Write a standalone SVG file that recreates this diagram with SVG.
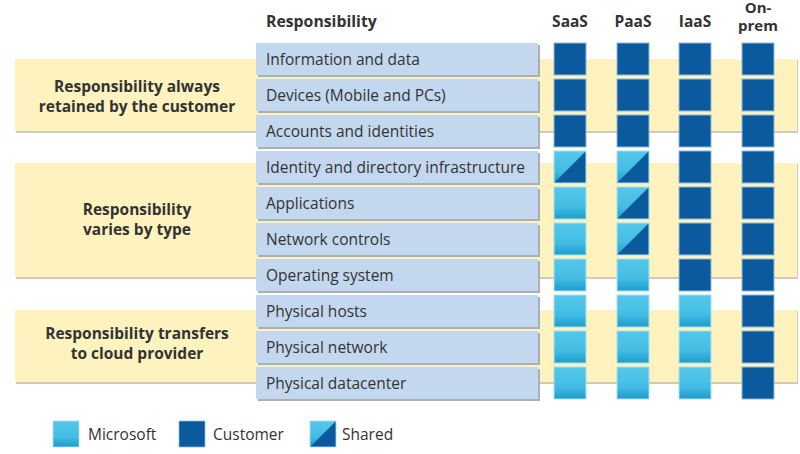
<svg xmlns="http://www.w3.org/2000/svg" width="800" height="454" viewBox="0 0 800 454">
<defs>
<linearGradient id="ms" x1="0" y1="0" x2="0" y2="1">
<stop offset="0" stop-color="#55C8EA"/>
<stop offset="0.6" stop-color="#45BDE4"/>
<stop offset="1" stop-color="#1C9DCB"/>
</linearGradient>
<symbol id="cMs" viewBox="0 0 32 32" overflow="visible"><rect x="0" y="0" width="32" height="32" fill="url(#ms)" stroke="#A8E0F2" stroke-width="1"/></symbol>
<symbol id="cCu" viewBox="0 0 32 32" overflow="visible"><rect x="0" y="0" width="32" height="32" fill="#0B5A9E" stroke="#8FB8DA" stroke-width="1"/></symbol>
<symbol id="cSh" viewBox="0 0 32 32" overflow="visible"><rect x="0" y="0" width="32" height="32" fill="url(#ms)"/><polygon points="32,0 32,32 0,32" fill="#0B5A9E"/><rect x="0" y="0" width="32" height="32" fill="none" stroke="#A8E0F2" stroke-width="1"/></symbol>
</defs>
<style>
.band{fill:#FEF2BF}
.bshadow{fill:#CFCBB8}
.lbl{fill:#C3D8EF}
.lshadow{fill:#A9AFB8}
.t{font-family:"Open Sans","Noto Sans","DejaVu Sans",sans-serif;font-size:15.5px;fill:#333333}
.b{font-family:"Open Sans","Noto Sans","DejaVu Sans",sans-serif;font-size:15.5px;font-weight:bold;fill:#333333}
.h{font-size:15.8px}
.op{font-size:15px}
.bc{text-anchor:middle}
</style>
<rect width="800" height="454" fill="#ffffff"/>

<g id="headers">
<text class="b h" x="266" y="27">Responsibility</text>
<text class="b bc" x="570" y="27">SaaS</text>
<text class="b bc" x="633" y="27">PaaS</text>
<text class="b bc" x="695" y="27">IaaS</text>
<text class="b bc op" x="758" y="13">On-</text>
<text class="b bc op" x="758" y="31">prem</text>
</g>

<g id="band-retained">
<rect class="bshadow" x="16" y="60" width="782" height="73"/>
<rect class="band" x="15" y="59" width="782" height="72"/>
<text class="b bc" x="137" y="92">Responsibility always</text>
<text class="b bc" x="137" y="112">retained by the customer</text>
</g>
<g id="band-varies">
<rect class="bshadow" x="16" y="164" width="782" height="115"/>
<rect class="band" x="15" y="163" width="782" height="114"/>
<text class="b bc" x="137" y="215">Responsibility</text>
<text class="b bc" x="137" y="235">varies by type</text>
</g>
<g id="band-transfers">
<rect class="bshadow" x="16" y="311" width="782" height="73"/>
<rect class="band" x="15" y="310" width="782" height="72"/>
<text class="b bc" x="137" y="339">Responsibility transfers</text>
<text class="b bc" x="137" y="359">to cloud provider</text>
</g>

<g id="rows">
<g id="row-information">
<rect class="lshadow" x="258" y="45" width="282" height="32"/>
<rect class="lbl" x="256" y="43" width="282" height="32"/>
<text class="t" x="266" y="65">Information and data</text>
</g>
<g id="row-devices">
<rect class="lshadow" x="258" y="81" width="282" height="32"/>
<rect class="lbl" x="256" y="79" width="282" height="32"/>
<text class="t" x="266" y="101">Devices (Mobile and PCs)</text>
</g>
<g id="row-accounts">
<rect class="lshadow" x="258" y="117" width="282" height="32"/>
<rect class="lbl" x="256" y="115" width="282" height="32"/>
<text class="t" x="266" y="137">Accounts and identities</text>
</g>
<g id="row-identity">
<rect class="lshadow" x="258" y="153" width="282" height="32"/>
<rect class="lbl" x="256" y="151" width="282" height="32"/>
<text class="t" x="266" y="173">Identity and directory infrastructure</text>
</g>
<g id="row-applications">
<rect class="lshadow" x="258" y="189" width="282" height="32"/>
<rect class="lbl" x="256" y="187" width="282" height="32"/>
<text class="t" x="266" y="209">Applications</text>
</g>
<g id="row-network-controls">
<rect class="lshadow" x="258" y="225" width="282" height="32"/>
<rect class="lbl" x="256" y="223" width="282" height="32"/>
<text class="t" x="266" y="245">Network controls</text>
</g>
<g id="row-os">
<rect class="lshadow" x="258" y="261" width="282" height="32"/>
<rect class="lbl" x="256" y="259" width="282" height="32"/>
<text class="t" x="266" y="281">Operating system</text>
</g>
<g id="row-hosts">
<rect class="lshadow" x="258" y="297" width="282" height="32"/>
<rect class="lbl" x="256" y="295" width="282" height="32"/>
<text class="t" x="266" y="317">Physical hosts</text>
</g>
<g id="row-network">
<rect class="lshadow" x="258" y="333" width="282" height="32"/>
<rect class="lbl" x="256" y="331" width="282" height="32"/>
<text class="t" x="266" y="353">Physical network</text>
</g>
<g id="row-datacenter">
<rect class="lshadow" x="258" y="369" width="282" height="32"/>
<rect class="lbl" x="256" y="367" width="282" height="32"/>
<text class="t" x="266" y="389">Physical datacenter</text>
</g>
</g>

<g id="col-saas">
<use href="#cCu" x="554" y="43" width="32" height="32"/>
<use href="#cCu" x="554" y="79" width="32" height="32"/>
<use href="#cCu" x="554" y="115" width="32" height="32"/>
<use href="#cSh" x="554" y="151" width="32" height="32"/>
<use href="#cMs" x="554" y="187" width="32" height="32"/>
<use href="#cMs" x="554" y="223" width="32" height="32"/>
<use href="#cMs" x="554" y="259" width="32" height="32"/>
<use href="#cMs" x="554" y="295" width="32" height="32"/>
<use href="#cMs" x="554" y="331" width="32" height="32"/>
<use href="#cMs" x="554" y="367" width="32" height="32"/>
</g>
<g id="col-paas">
<use href="#cCu" x="617" y="43" width="32" height="32"/>
<use href="#cCu" x="617" y="79" width="32" height="32"/>
<use href="#cCu" x="617" y="115" width="32" height="32"/>
<use href="#cSh" x="617" y="151" width="32" height="32"/>
<use href="#cSh" x="617" y="187" width="32" height="32"/>
<use href="#cSh" x="617" y="223" width="32" height="32"/>
<use href="#cMs" x="617" y="259" width="32" height="32"/>
<use href="#cMs" x="617" y="295" width="32" height="32"/>
<use href="#cMs" x="617" y="331" width="32" height="32"/>
<use href="#cMs" x="617" y="367" width="32" height="32"/>
</g>
<g id="col-iaas">
<use href="#cCu" x="679" y="43" width="32" height="32"/>
<use href="#cCu" x="679" y="79" width="32" height="32"/>
<use href="#cCu" x="679" y="115" width="32" height="32"/>
<use href="#cCu" x="679" y="151" width="32" height="32"/>
<use href="#cCu" x="679" y="187" width="32" height="32"/>
<use href="#cCu" x="679" y="223" width="32" height="32"/>
<use href="#cCu" x="679" y="259" width="32" height="32"/>
<use href="#cMs" x="679" y="295" width="32" height="32"/>
<use href="#cMs" x="679" y="331" width="32" height="32"/>
<use href="#cMs" x="679" y="367" width="32" height="32"/>
</g>
<g id="col-onprem">
<use href="#cCu" x="742" y="43" width="32" height="32"/>
<use href="#cCu" x="742" y="79" width="32" height="32"/>
<use href="#cCu" x="742" y="115" width="32" height="32"/>
<use href="#cCu" x="742" y="151" width="32" height="32"/>
<use href="#cCu" x="742" y="187" width="32" height="32"/>
<use href="#cCu" x="742" y="223" width="32" height="32"/>
<use href="#cCu" x="742" y="259" width="32" height="32"/>
<use href="#cCu" x="742" y="295" width="32" height="32"/>
<use href="#cCu" x="742" y="331" width="32" height="32"/>
<use href="#cCu" x="742" y="367" width="32" height="32"/>
</g>

<g id="legend">
<use href="#cMs" x="53" y="421" width="26" height="26"/>
<text class="t" x="88" y="440">Microsoft</text>
<use href="#cCu" x="179" y="421" width="26" height="26"/>
<text class="t" x="213" y="440">Customer</text>
<use href="#cSh" x="310" y="421" width="26" height="26"/>
<text class="t" x="342" y="440">Shared</text>
</g>
<g id="connectors"/>
</svg>
